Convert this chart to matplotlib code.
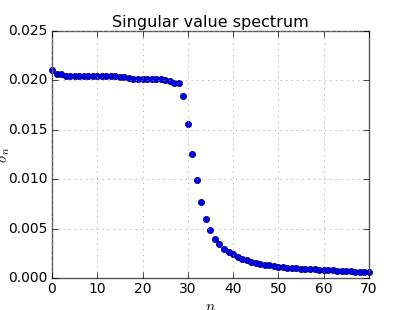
import numpy as np
import matplotlib
matplotlib.use("Agg")
import matplotlib.pyplot as plt

plt.style.use("classic")
plt.rcParams["mathtext.fontset"] = "cm"

n = np.arange(71)
sigma = [0.0211, 0.0206, 0.0206,
         0.02045, 0.02045, 0.02045, 0.02045, 0.02045, 0.02045, 0.02045,
         0.02045, 0.02045, 0.02045, 0.02045,
         0.0204, 0.0203, 0.0203, 0.0202,
         0.0201, 0.0201, 0.0201, 0.0201, 0.0201, 0.0201, 0.0201,
         0.0200, 0.0199, 0.01975, 0.0197,
         0.0184, 0.01555, 0.01258, 0.00989, 0.00766, 0.0060, 0.00483,
         0.00398, 0.00341, 0.00297, 0.00266, 0.0024, 0.00216, 0.00196,
         0.00179, 0.00165, 0.00155, 0.00145, 0.00136, 0.00128, 0.00121,
         0.00115, 0.00110, 0.00106, 0.00102, 0.00098, 0.00095, 0.00092,
         0.00089, 0.00087, 0.00085, 0.00083, 0.00080, 0.00078, 0.00076,
         0.00074, 0.00072, 0.00067, 0.00065, 0.00062, 0.00060, 0.00058]

fig = plt.figure(figsize=(4.11, 3.10), dpi=100)
ax = fig.add_axes([0.1265, 0.103, 0.771, 0.797])
ax.plot(n, sigma, "o", color="blue", markeredgecolor="#000040",
        markersize=4.5, markeredgewidth=0.5, clip_on=False)
ax.set_xlim(0, 70)
ax.set_ylim(0, 0.025)
ax.set_xticks(range(0, 71, 10))
ax.set_yticks([0.0, 0.005, 0.010, 0.015, 0.020, 0.025])
ax.set_yticklabels(["0.000", "0.005", "0.010", "0.015", "0.020", "0.025"])
ax.tick_params(labelsize=10, pad=3)
ax.grid(True, color="#999999")
ax.set_title("Singular value spectrum", fontsize=11.5, y=0.99)
ax.set_xlabel("$n$", fontsize=11, labelpad=2)
ax.set_ylabel(r"$\sigma_n$", fontsize=11)
ax.yaxis.set_label_coords(-0.125, 0.5)
for s in ax.spines.values():
    s.set_color("#555555")

plt.savefig("out.png", dpi=100)
